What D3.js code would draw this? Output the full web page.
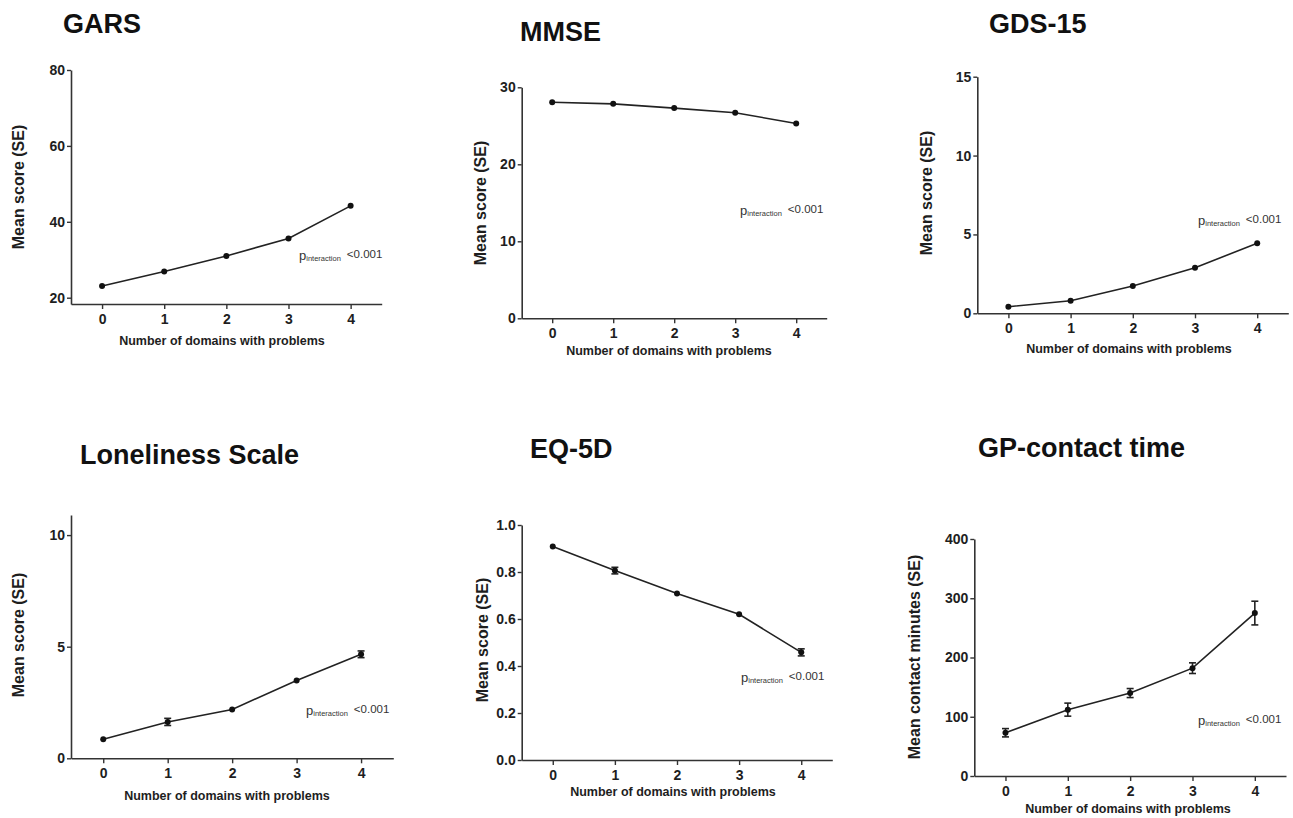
<!DOCTYPE html>
<html>
<head>
<meta charset="utf-8">
<script src="https://cdn.jsdelivr.net/npm/d3@7"></script>
<style>
  html, body { margin: 0; padding: 0; background: #fff; }
  svg { display: block; font-family: "Liberation Sans", Arial, Helvetica, sans-serif; }
</style>
</head>
<body>
<svg id="chart" width="1293" height="818"></svg>
<script>
// ---------------- data ----------------
const domains = [0, 1, 2, 3, 4];
const xLabel = "Number of domains with problems";
const pValue = "<0.001";

const titles = ["GARS", "MMSE", "GDS-15", "Loneliness Scale", "EQ-5D", "GP-contact time"];
const yLabels = ["Mean score (SE)", "Mean score (SE)", "Mean score (SE)",
                 "Mean score (SE)", "Mean score (SE)", "Mean contact minutes (SE)"];

const garsMean = [23.1, 26.9, 31.0, 35.6, 44.2];
const garsSE   = [0.2, 0.2, 0.2, 0.3, 0.35];
const mmseMean = [28.05, 27.85, 27.3, 26.7, 25.3];
const mmseSE   = [0.05, 0.05, 0.08, 0.1, 0.15];
const gdsMean  = [0.42, 0.80, 1.73, 2.89, 4.44];
const gdsSE    = [0.03, 0.04, 0.05, 0.07, 0.09];
const loneMean = [0.85, 1.63, 2.19, 3.49, 4.66];
const loneSE   = [0.04, 0.16, 0.05, 0.06, 0.15];
const eqMean   = [0.909, 0.806, 0.708, 0.620, 0.458];
const eqSE     = [0.004, 0.014, 0.005, 0.006, 0.015];
const gpMean   = [73, 112, 140, 182, 275];
const gpSE     = [7, 11, 7.6, 9, 20];

const garsTicks = [20, 40, 60, 80];
const mmseTicks = [0, 10, 20, 30];
const gdsTicks  = [0, 5, 10, 15];
const loneTicks = [0, 5, 10];
const eqTicks   = [0.0, 0.2, 0.4, 0.6, 0.8, 1.0];
const gpTicks   = [0, 100, 200, 300, 400];

const yDomains = [[18.34, 80], [0, 30], [0, 15], [0, 10.9], [0, 1], [0, 400]];

// ---------------- layout (pixels) ----------------
const layout = [
  { x0: 71,    x1: 381.7,  yB: 304,   yT: 70,    title: [63, 33],    yl: [24, 187],    xl: [222, 345],   p: [299, 260] },
  { x0: 521.7, x1: 826.7,  yB: 318.3, yT: 87.3,  title: [520, 41],   yl: [486, 203],   xl: [669, 355],   p: [740, 215] },
  { x0: 977.3, x1: 1288.3, yB: 313.3, yT: 76.7,  title: [989, 33],   yl: [932, 193],   xl: [1129, 353],  p: [1198, 225] },
  { x0: 71,    x1: 393.3,  yB: 758.3, yT: 515,   title: [80, 464],   yl: [24, 635],    xl: [227, 800],   p: [306, 715] },
  { x0: 521.7, x1: 832.3,  yB: 760,   yT: 525,   title: [530, 458],  yl: [488, 640],   xl: [673, 796],   p: [741, 682] },
  { x0: 974.3, x1: 1286,   yB: 776,   yT: 539,   title: [978, 457],  yl: [920, 657],   xl: [1128, 813],  p: [1198, 725] }
];

const means = [garsMean, mmseMean, gdsMean, loneMean, eqMean, gpMean];
const ses = [garsSE, mmseSE, gdsSE, loneSE, eqSE, gpSE];
const ticks = [garsTicks, mmseTicks, gdsTicks, loneTicks, eqTicks, gpTicks];
const formats = [d3.format("d"), d3.format("d"), d3.format("d"), d3.format("d"), d3.format(".1f"), d3.format("d")];

const svg = d3.select("#chart");
const ink = "#1e1e1e";
const markerR = 3;

layout.forEach((L, i) => {
  const x = d3.scaleLinear().domain([-0.5, 4.5]).range([L.x0, L.x1]);
  const y = d3.scaleLinear().domain(yDomains[i]).range([L.yB, L.yT]);
  const g = svg.append("g");

  // y axis
  const ya = g.append("g").attr("transform", `translate(${L.x0},0)`)
    .call(d3.axisLeft(y).tickValues(ticks[i]).tickFormat(formats[i]).tickSize(4).tickPadding(2).tickSizeOuter(0));
  // x axis
  const xa = g.append("g").attr("transform", `translate(0,${L.yB})`)
    .call(d3.axisBottom(x).tickValues(domains).tickFormat(d3.format("d")).tickSize(5).tickPadding(5).tickSizeOuter(0));
  [ya, xa].forEach(a => {
    a.select(".domain").attr("stroke", "#333").attr("stroke-width", 1.6);
    a.selectAll(".tick line").attr("stroke", "#333").attr("stroke-width", 1.4);
    a.selectAll(".tick text").attr("fill", ink).attr("font-size", 14).attr("font-weight", "bold")
      .attr("font-family", '"Liberation Sans", Arial, sans-serif');
  });

  const pts = domains.map((d, k) => ({ d, m: means[i][k], s: ses[i][k] }));

  // line
  g.append("path").datum(pts)
    .attr("fill", "none").attr("stroke", "#222").attr("stroke-width", 1.6)
    .attr("d", d3.line().x(p => x(p.d)).y(p => y(p.m)));

  // error bars (hidden behind the marker when shorter than its radius)
  const eb = g.append("g").attr("stroke", "#222").attr("stroke-width", 1.6);
  pts.forEach(p => {
    const yt = y(p.m + p.s), yb = y(p.m - p.s);
    if ((yb - yt) / 2 <= markerR) return;
    eb.append("line").attr("x1", x(p.d)).attr("x2", x(p.d)).attr("y1", yt).attr("y2", yb);
    eb.append("line").attr("x1", x(p.d) - 3.5).attr("x2", x(p.d) + 3.5).attr("y1", yt).attr("y2", yt);
    eb.append("line").attr("x1", x(p.d) - 3.5).attr("x2", x(p.d) + 3.5).attr("y1", yb).attr("y2", yb);
  });

  // markers
  g.selectAll("circle.pt").data(pts).enter().append("circle")
    .attr("cx", p => x(p.d)).attr("cy", p => y(p.m)).attr("r", markerR).attr("fill", "#111");

  // title
  g.append("text").attr("x", L.title[0]).attr("y", L.title[1])
    .attr("font-size", 27).attr("font-weight", "bold").attr("fill", "#111").text(titles[i]);

  // y label
  g.append("text").attr("transform", `translate(${L.yl[0]},${L.yl[1]}) rotate(-90)`)
    .attr("text-anchor", "middle").attr("font-size", 16).attr("font-weight", "bold").attr("fill", ink)
    .text(yLabels[i]);

  // x label
  g.append("text").attr("x", L.xl[0]).attr("y", L.xl[1]).attr("text-anchor", "middle")
    .attr("font-size", 12.5).attr("font-weight", "bold").attr("fill", ink).text(xLabel);

  // p interaction
  const pt = g.append("text").attr("x", L.p[0]).attr("y", L.p[1]).attr("fill", "#333");
  pt.append("tspan").attr("font-size", 13).text("p");
  pt.append("tspan").attr("font-size", 7.5).attr("dy", 1).text("interaction");
  pt.append("tspan").attr("font-size", 11.5).attr("dy", -3).attr("dx", 6).text(pValue);
});
</script>
</body>
</html>
